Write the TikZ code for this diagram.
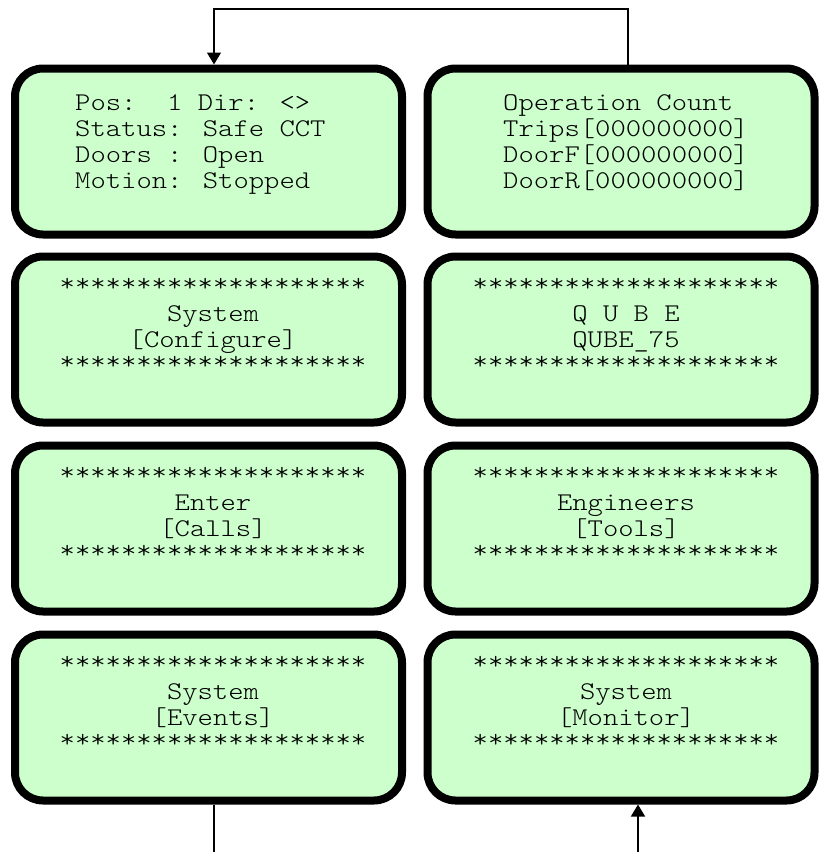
\documentclass[tikz,border=0pt]{standalone}
\usepackage{fontspec}
\newfontfamily\lcdmono[FakeStretch=1.145]{Latin Modern Mono Light}
\usetikzlibrary{arrows.meta}
\definecolor{lcdgreen}{HTML}{CCFFCC}
\newcommand{\lcdstars}{\raisebox{4pt}[0pt][0pt]{********************}}
\begin{document}
\begin{tikzpicture}[x=1pt,y=-1pt,
  screen/.style={draw=black,line width=8pt,fill=lcdgreen,rounded corners=28pt,
    minimum width=387pt,minimum height=166pt,inner sep=0pt},
  lcdtext/.style={inner sep=0pt,font=\lcdmono\fontsize{25.5}{26}\selectfont},
  wire/.style={line width=1.3pt,draw=black},
  tip/.style={-{Triangle[width=14pt,length=12pt]}}]
\useasboundingbox (0,0) rectangle (820,852);
\renewcommand{\arraystretch}{1}
\setlength{\tabcolsep}{0pt}
% boxes
\node[screen] (b1) at (208.5,151.5) {};
\node[screen] (b2) at (621,151.5) {};
\node[screen] (b3) at (208.5,339.5) {};
\node[screen] (b4) at (621,339.5) {};
\node[screen] (b5) at (208.5,528.5) {};
\node[screen] (b6) at (621,528.5) {};
\node[screen] (b7) at (208.5,717.5) {};
\node[screen] (b8) at (621,717.5) {};
% texts
\node[lcdtext,anchor=base west] (t1) at (75,110.5) {\begin{tabular}[t]{l}Pos:\ \ 1 Dir: <>\\Status: Safe CCT\\Doors : Open\\Motion: Stopped\end{tabular}};
\node[lcdtext,anchor=base west] (t2) at (503,110.5) {\begin{tabular}[t]{l}Operation Count\\Trips[000000000]\\DoorF[000000000]\\DoorR[000000000]\end{tabular}};
\node[lcdtext,anchor=base] (t3) at (213,295.5) {\begin{tabular}[t]{c}\lcdstars\\System\\{[}Configure{]}\\\lcdstars\end{tabular}};
\node[lcdtext,anchor=base] (t4) at (626,295.5) {\begin{tabular}[t]{c}\lcdstars\\Q U B E\\QUBE\_75\\\lcdstars\end{tabular}};
\node[lcdtext,anchor=base] (t5) at (213,484.5) {\begin{tabular}[t]{c}\lcdstars\\Enter\\{[}Calls{]}\\\lcdstars\end{tabular}};
\node[lcdtext,anchor=base] (t6) at (626,484.5) {\begin{tabular}[t]{c}\lcdstars\\Engineers\\{[}Tools{]}\\\lcdstars\end{tabular}};
\node[lcdtext,anchor=base] (t7) at (213,673.5) {\begin{tabular}[t]{c}\lcdstars\\System\\{[}Events{]}\\\lcdstars\end{tabular}};
\node[lcdtext,anchor=base] (t8) at (626,673.5) {\begin{tabular}[t]{c}\lcdstars\\System\\{[}Monitor{]}\\\lcdstars\end{tabular}};
% connectors
\coordinate (c1) at (214,9);
\coordinate (c2) at (628,9);
\coordinate (e1) at (214,852);
\coordinate (e2) at (638,852);
\draw[wire,tip] (b2.north -| c2) -- (c2) -- (c1) -- (c1 |- b1.north);
\draw[wire] (e1 |- b7.south) -- (e1);
\draw[wire,tip] (e2) -- (e2 |- b8.south);
\end{tikzpicture}
\end{document}
